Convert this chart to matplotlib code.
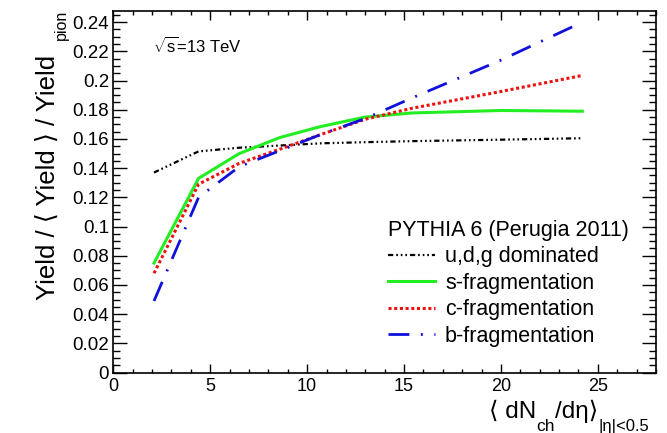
import matplotlib
matplotlib.use("Agg")
import matplotlib.pyplot as plt
from matplotlib.ticker import MultipleLocator, FuncFormatter

plt.rcParams['font.family'] = ['Liberation Sans', 'DejaVu Sans']
plt.rcParams['lines.scale_dashes'] = False
plt.rcParams['mathtext.fontset'] = 'custom'
plt.rcParams['mathtext.rm'] = 'Liberation Sans'
plt.rcParams['mathtext.it'] = 'Liberation Sans:italic'

# <dN_ch/deta> bins and yield ratios for each fragmentation scenario
multiplicity = [2.1, 4.4, 6.5, 8.6, 10.7, 13.0, 15.4, 20.0, 24.2]
udg_dominated = [0.137, 0.1515, 0.154, 0.1555, 0.157, 0.1578, 0.1585, 0.1595, 0.1605]
s_fragmentation = [0.075, 0.133, 0.150, 0.161, 0.1685, 0.175, 0.1778, 0.1795, 0.179]
c_fragmentation = [0.068, 0.129, 0.1433, 0.153, 0.163, 0.1735, 0.181, 0.1925, 0.2035]
b_fragmentation = [0.049, 0.120, 0.141, 0.152, 0.163, 0.174, 0.188, 0.214, 0.240]

series_labels = ["u,d,g dominated", "s-fragmentation", "c-fragmentation", "b-fragmentation"]
legend_title = "PYTHIA 6 (Perugia 2011)"
energy_label = r"$\sqrt{\mathrm{s}}$=13 TeV"
x_ticks = [0, 5, 10, 15, 20, 25]

W, H = 667, 433
fig = plt.figure(figsize=(W / 100, H / 100), dpi=100)
ax = fig.add_axes([113.3 / W, 1 - 372.5 / H, (656 - 113.3) / W, (372.5 - 10.5) / H])

h1, = ax.plot(multiplicity, udg_dominated, color='black', lw=1.6,
              dashes=[3.8, 2.1, 1.2, 2.1, 1.2, 2.1, 1.2, 2.1])
h2, = ax.plot(multiplicity, s_fragmentation, color='#22ee22', lw=2.2)
h3, = ax.plot(multiplicity, c_fragmentation, color='#ee1111', lw=2.2,
              dashes=[2.2, 1.9])
h4, = ax.plot(multiplicity, b_fragmentation, color='#1010dd', lw=2.0,
              dashes=[15, 8.3, 1.4, 8.3])

ax.set_xlim(0, 28)
ax.set_ylim(0, 0.248)
ax.set_xticks(x_ticks)
ax.xaxis.set_minor_locator(MultipleLocator(1))
ax.yaxis.set_major_locator(MultipleLocator(0.02))
ax.yaxis.set_minor_locator(MultipleLocator(0.005))
ax.yaxis.set_major_formatter(FuncFormatter(lambda v, _: f"{v:g}"))

for sp in ax.spines.values():
    sp.set_linewidth(1.2)
ax.tick_params(which='both', direction='in', top=True, right=True, width=1.0, colors='black')
ax.tick_params(axis='y', which='major', length=10.3, labelsize=13.5, pad=3)
ax.tick_params(axis='y', which='minor', length=4.8)
ax.tick_params(axis='x', which='major', length=6.7, labelsize=13, pad=4)
ax.tick_params(axis='x', which='minor', length=3.1)

fig.text(153 / W, 1 - 53 / H, energy_label, fontsize=12)

leg = ax.legend([h1, h2, h3, h4], series_labels, title=legend_title,
                loc='upper left', bbox_to_anchor=(388 / W, 1 - 220 / H),
                bbox_transform=fig.transFigure, frameon=False,
                fontsize=15.5, title_fontsize=15.5, alignment='left',
                borderpad=0, borderaxespad=0, handlelength=2.2,
                handletextpad=0.45, labelspacing=0.25)

# y-axis title with a small "pion" subscript
fig.text(55 / W, 1 - 55 / H, "Yield / ⟨ Yield ⟩ / Yield", rotation=90,
         rotation_mode='anchor', ha='right', va='baseline', fontsize=18.5)
fig.text(66 / W, 1 - 40 / H, "pion", rotation=90, rotation_mode='anchor',
         ha='left', va='baseline', fontsize=11.5)

# x-axis title assembled piece by piece so subscripts sit low
renderer = fig.canvas.get_renderer()


def put(x_px, base_px, s, size):
    t = fig.text(x_px / W, 1 - base_px / H, s, fontsize=size, ha='left', va='baseline')
    return t.get_window_extent(renderer=renderer).x1


x = put(489, 418, "⟨ dN", 17.5)
x = put(x, 431, "ch", 12.5)
x = put(x, 418, "/dη⟩", 17.5)
put(x + 1, 431, "|η|<0.5", 12)

fig.savefig("out.png", dpi=100)
